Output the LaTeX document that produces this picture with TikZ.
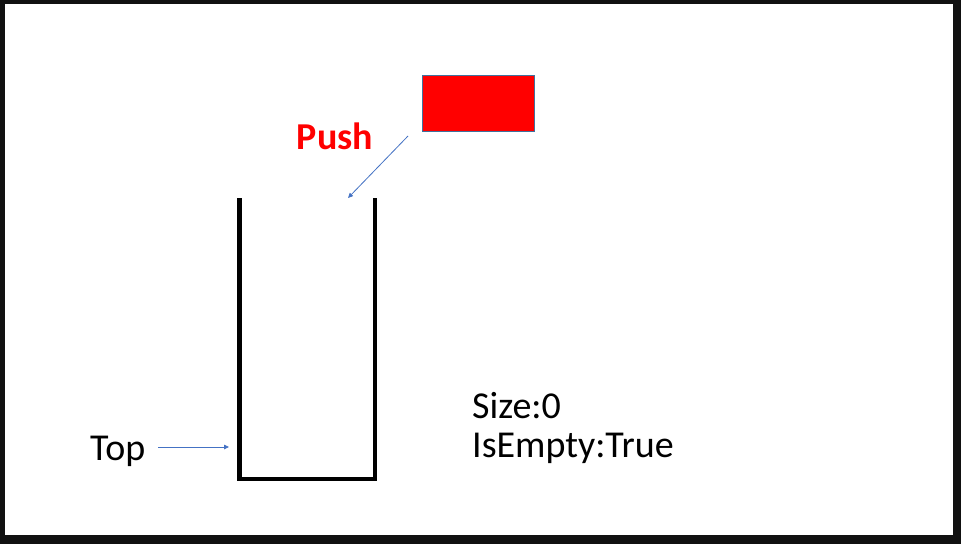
\documentclass[tikz,border=0pt]{standalone}
\usepackage{fontspec}
\setmainfont{Carlito}
\usetikzlibrary{arrows.meta}
\definecolor{frame}{HTML}{111111}
\definecolor{arrowblue}{HTML}{4472C4}
\definecolor{boxedge}{HTML}{41719C}
\begin{document}
\begin{tikzpicture}[x=1pt,y=-1pt,
  lbl/.style={inner sep=0pt,font=\fontsize{38}{39}\selectfont},
  thinarrow/.style={arrowblue,line width=0.8pt,-{Triangle[length=5pt,width=4.5pt]}},
  stackwall/.style={line width=4.5pt,line join=miter}]
\fill[frame] (0,0) rectangle (961,544);
\useasboundingbox (0,0) rectangle (961,544);
\fill[white] (5,4) rectangle (953,535);
% stack
\coordinate (tl) at (239.5,198);
\coordinate (bl) at (239.5,479);
\coordinate (br) at (375,479);
\coordinate (tr) at (375,198);
\draw[stackwall] (tl) -- (bl) -- (br) -- (tr);
% red element
\node[draw=boxedge,line width=0.8pt,fill=red,minimum width=112pt,minimum height=56pt,inner sep=0pt] (elem) at (478,103) {};
\node[lbl,anchor=base,text=red,font=\fontsize{38}{39}\selectfont\bfseries] (push) at (335,149) {Push};
\coordinate (pushstart) at (408,136);
\coordinate (pushend) at (348,198);
\draw[thinarrow] (pushstart) -- (pushend);
% top
\node[lbl,anchor=base west] (top) at (90,460) {Top};
\coordinate (topstart) at (158,447);
\coordinate (topend) at (229,447);
\draw[thinarrow] (topstart) -- (topend);
% info
\node[lbl,anchor=base west] (size) at (472,418) {Size:0};
\node[lbl,anchor=base west] (empty) at (472,457) {IsEmpty:True};
\end{tikzpicture}
\end{document}
